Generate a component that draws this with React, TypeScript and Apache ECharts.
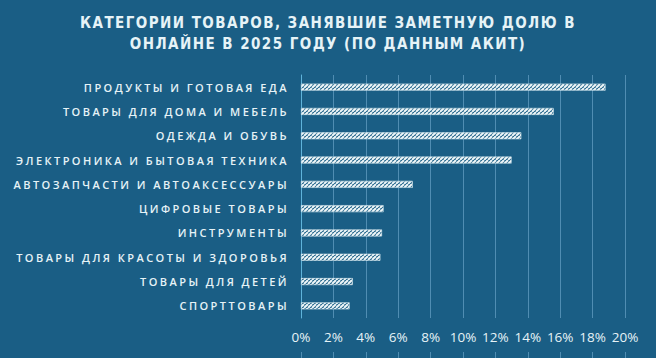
import React, { useEffect, useRef } from 'react';
import * as echarts from 'echarts';

const titleLines = [
  'КАТЕГОРИИ ТОВАРОВ, ЗАНЯВШИЕ ЗАМЕТНУЮ ДОЛЮ В',
  'ОНЛАЙНЕ В 2025 ГОДУ (ПО ДАННЫМ АКИТ)',
];

const categories = [
  'ПРОДУКТЫ И ГОТОВАЯ ЕДА',
  'ТОВАРЫ ДЛЯ ДОМА И МЕБЕЛЬ',
  'ОДЕЖДА И ОБУВЬ',
  'ЭЛЕКТРОНИКА И БЫТОВАЯ ТЕХНИКА',
  'АВТОЗАПЧАСТИ И АВТОАКСЕССУАРЫ',
  'ЦИФРОВЫЕ ТОВАРЫ',
  'ИНСТРУМЕНТЫ',
  'ТОВАРЫ ДЛЯ КРАСОТЫ И ЗДОРОВЬЯ',
  'ТОВАРЫ ДЛЯ ДЕТЕЙ',
  'СПОРТТОВАРЫ',
];

const shares = [18.8, 15.6, 13.6, 13.0, 6.9, 5.1, 5.0, 4.9, 3.2, 3.0];

const xMin = 0;
const xMax = 20;
const xStep = 2;

const BG = '#1a5e85';
const TEXT = '#e6f3f7';
const GRID_LINE = 'rgba(125,180,215,0.55)';
const ZERO_LINE = '#5fb3da';
const TITLE_LS = '1.45px';
const CAT_LS = '2.45px';

function makeHatch(): HTMLCanvasElement {
  const c = document.createElement('canvas');
  c.width = 4;
  c.height = 4;
  const ctx = c.getContext('2d')!;
  ctx.fillStyle = BG;
  ctx.fillRect(0, 0, 4, 4);
  ctx.strokeStyle = '#eef6f8';
  ctx.lineWidth = 2;
  for (let k = -1; k <= 1; k++) {
    ctx.beginPath();
    ctx.moveTo(k * 4, 4);
    ctx.lineTo(k * 4 + 4, 0);
    ctx.stroke();
  }
  return c;
}

export default function App() {
  const ref = useRef<HTMLDivElement>(null);

  useEffect(() => {
    const el = ref.current!;
    const chart = echarts.init(el, undefined, { renderer: 'svg' });
    const hatch = makeHatch();

    chart.setOption({
      animation: false,
      backgroundColor: BG,
      title: {
        text: titleLines.join('\n'),
        left: 'center',
        top: 12,
        padding: 0,
        textStyle: {
          color: TEXT,
          fontSize: 15,
          fontWeight: 'bold',
          lineHeight: 21,
          fontFamily: '"Liberation Sans Narrow", "DejaVu Sans Condensed", sans-serif',
        },
      },
      grid: [
        { left: 301, right: 31, top: 75, bottom: 40 },
        { left: 301, right: 31, top: 352, height: 30 },
      ],
      xAxis: [
        {
          type: 'value',
          gridIndex: 0,
          min: xMin,
          max: xMax,
          interval: xStep,
          axisLine: { show: false },
          axisTick: { show: false },
          splitLine: { show: true, lineStyle: { color: GRID_LINE, width: 1 } },
          axisLabel: {
            formatter: '{value}%',
            color: TEXT,
            fontSize: 13.5,
            margin: 12,
            fontFamily: '"Open Sans", sans-serif',
          },
        },
        {
          type: 'value',
          gridIndex: 1,
          min: xMin,
          max: xMax,
          interval: xStep,
          axisLine: { show: false },
          axisTick: { show: false },
          axisLabel: { show: false },
          splitLine: { show: true, lineStyle: { color: GRID_LINE, width: 1 } },
        },
      ],
      yAxis: [
        {
          type: 'category',
          gridIndex: 0,
          data: categories,
          inverse: true,
          axisLine: { show: true, lineStyle: { color: ZERO_LINE, width: 1 } },
          axisTick: { show: false },
          splitLine: { show: false },
          axisLabel: {
            color: TEXT,
            fontSize: 11,
            fontWeight: 600,
            margin: 12,
            fontFamily: '"Open Sans", sans-serif',
          },
        },
        {
          type: 'category',
          gridIndex: 1,
          data: ['x'],
          show: false,
        },
      ],
      series: [
        {
          type: 'bar',
          xAxisIndex: 0,
          yAxisIndex: 0,
          data: shares,
          barWidth: 7,
          itemStyle: {
            color: { image: hatch, repeat: 'repeat' },
            borderColor: '#dcecf2',
            borderWidth: 0.6,
          },
        },
      ],
    });

    const applySpacing = () => {
      el.querySelectorAll('text').forEach((t) => {
        const s = (t.textContent || '').trim();
        if (titleLines.includes(s)) (t as SVGTextElement).style.letterSpacing = TITLE_LS;
        else if (categories.includes(s)) (t as SVGTextElement).style.letterSpacing = CAT_LS;
      });
    };
    applySpacing();
    const raf = requestAnimationFrame(applySpacing);

    return () => {
      cancelAnimationFrame(raf);
      chart.dispose();
    };
  }, []);

  return (
    <div
      ref={ref}
      style={{ position: 'fixed', left: 0, top: 0, width: 656, height: 358, background: BG }}
    />
  );
}
